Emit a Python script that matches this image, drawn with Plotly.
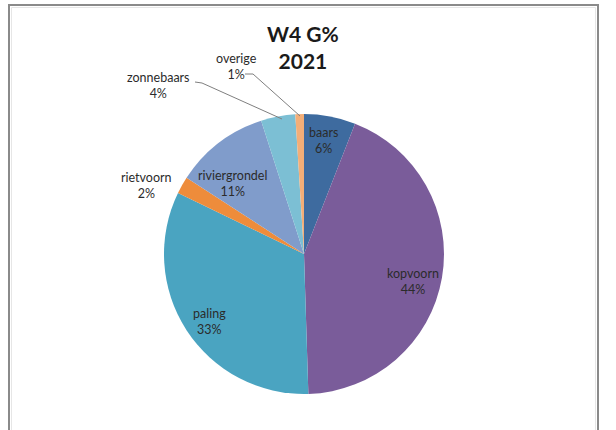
import plotly.graph_objects as go

# Catch composition at W4, share per species (%)
species = ["baars", "kopvoorn", "paling", "rietvoorn", "riviergrondel", "zonnebaars", "overige"]
share = [6, 44, 33, 2, 11, 4, 1]
colors = ["#3E6B9F", "#7A5C9A", "#4AA4C1", "#EE8C3B", "#809CCB", "#7CBFD4", "#F3AE78"]

# Label anchor points in pixels (x, y from top) for each species
label_px = {
    "baars": (323, 140),
    "kopvoorn": (413, 281),
    "paling": (210, 321),
    "rietvoorn": (146, 185),
    "riviergrondel": (232, 183),
    "zonnebaars": (158, 86),
    "overige": (237, 66),
}
# Leader lines for the small outside labels (pixel polylines)
leaders = {
    "zonnebaars": [(195, 82), (202, 83), (282, 119)],
    "overige": [(245, 74), (253, 74), (300, 116)],
}

W, H = 616, 430


def px(x, y):
    return x / W, 1 - y / H


fig = go.Figure(
    go.Pie(
        labels=species,
        values=share,
        sort=False,
        direction="clockwise",
        rotation=0,
        marker=dict(colors=colors, line=dict(width=0)),
        textinfo="none",
        hoverinfo="label+value",
        showlegend=False,
        domain=dict(x=[(304 - 140) / W, (304 + 140) / W],
                    y=[1 - (254 + 140) / H, 1 - (254 - 140) / H]),
    )
)

annotations = []
for name, val in zip(species, share):
    x, y = px(*label_px[name])
    annotations.append(dict(
        x=x, y=y, xref="paper", yref="paper",
        text=f"{name}<br>{val}%", showarrow=False,
        font=dict(family="Lato, Open Sans, sans-serif", size=12.5, color="#2b2b2b"),
        align="center", xanchor="center", yanchor="middle",
    ))

# Chart title
tx, ty = px(303, 47)
annotations.append(dict(
    x=tx, y=ty, xref="paper", yref="paper",
    text="<b>W4 G%</b><br><b>2021</b>", showarrow=False,
    font=dict(family="Lato, Open Sans, sans-serif", size=21, color="#1a1a1a"),
    align="center", xanchor="center", yanchor="middle",
))

shapes = []
for name, pts in leaders.items():
    p = [px(*q) for q in pts]
    path = "M " + " L ".join(f"{a},{b}" for a, b in p)
    shapes.append(dict(type="path", path=path, xref="paper", yref="paper",
                       line=dict(color="#7f7f7f", width=1)))

# Chart frame: outer grey border with a faint inner rule
x0, y0 = px(9, 5)
x1, y1 = px(598, 440)
shapes.append(dict(type="rect", xref="paper", yref="paper",
                   x0=x0, y0=y1, x1=x1, y1=y0,
                   line=dict(color="#8a8a8a", width=2)))
ix0, iy0 = px(11.5, 7.5)
ix1, iy1 = px(595.5, 440)
shapes.append(dict(type="rect", xref="paper", yref="paper",
                   x0=ix0, y0=iy1, x1=ix1, y1=iy0,
                   line=dict(color="#e6e6e6", width=1)))

fig.update_layout(
    width=W, height=H,
    margin=dict(l=0, r=0, t=0, b=0),
    paper_bgcolor="white",
    annotations=annotations,
    shapes=shapes,
)

fig.write_html("out.html")
